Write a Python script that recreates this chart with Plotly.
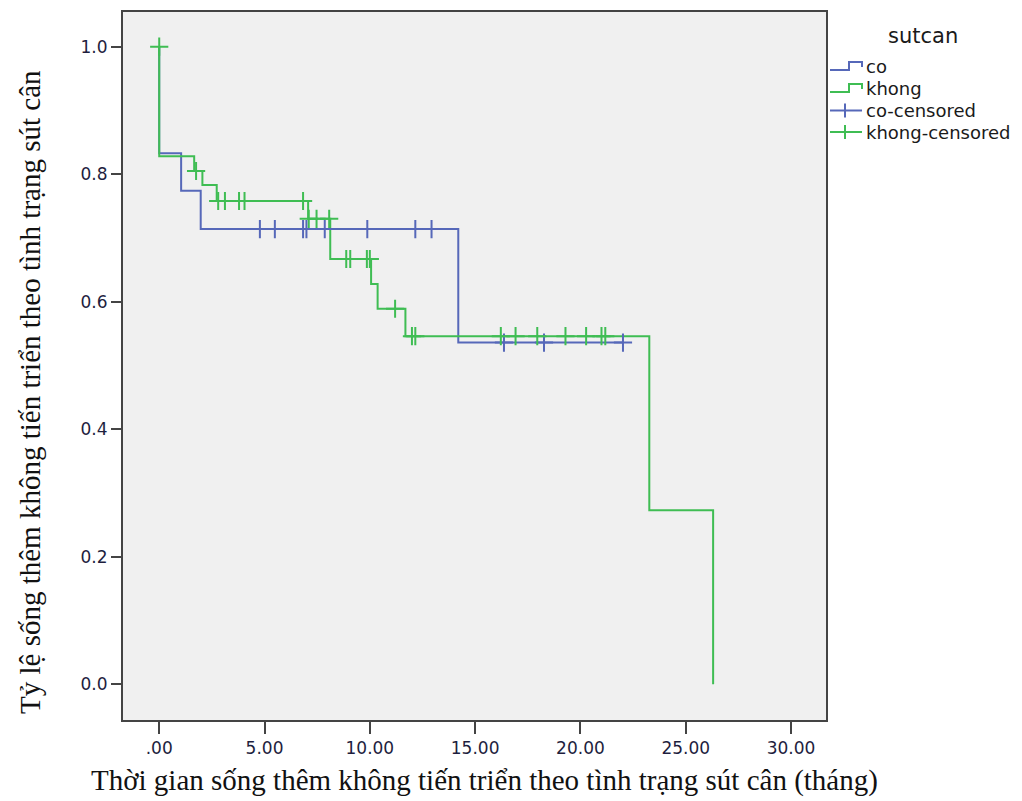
import plotly.graph_objects as go

# ---- data ----
co_step_t = [0, 0, 1.04, 1.97, 14.2, 22.02]
co_step_s = [1.0, 0.833, 0.774, 0.714, 0.536, 0.536]
co_cens_t = [4.78, 5.49, 6.83, 6.99, 7.86, 9.88, 12.16, 12.93, 16.37, 18.27, 22.02]

khong_step_t = [0, 0, 1.66, 2.05, 2.73, 7.07, 8.12, 10.06, 10.37, 11.69, 23.27, 26.3]
khong_step_s = [1.0, 0.828, 0.805, 0.783, 0.758, 0.730, 0.667, 0.628, 0.589, 0.546, 0.273, 0.0]
khong_cens_t = [0, 1.75, 2.8, 3.12, 3.79, 4.05, 6.83, 7.1, 7.47, 8.07, 8.88, 9.07,
                9.86, 10.0, 11.2, 12.0, 12.16, 16.22, 16.92, 17.95, 19.29, 20.27, 21.0, 21.18]

x_tickvals = [0, 5, 10, 15, 20, 25, 30]
x_ticktext = [".00", "5.00", "10.00", "15.00", "20.00", "25.00", "30.00"]
y_tickvals = [0.0, 0.2, 0.4, 0.6, 0.8, 1.0]

legend_title = "sutcan"
legend_names = ["co", "khong", "co-censored", "khong-censored"]

BLUE = "#5668b9"
GREEN = "#3fbd53"
legend_colors = [BLUE, GREEN, BLUE, GREEN]


def surv_at(t, ts, ss):
    val = ss[0]
    for i in range(1, len(ts)):
        if ts[i] < t:
            val = ss[i]
    return val


co_cens_s = [surv_at(t, co_step_t, co_step_s) for t in co_cens_t]
khong_cens_s = [surv_at(t, khong_step_t, khong_step_s) for t in khong_cens_t]

# page offset (body margin of the html page) and plot area geometry in page pixels
OFF = 8
PL, PR, PT, PB = 123, 826, 12, 720
W, H = 1022 - OFF, 801 - OFF


def px(x):
    return (x - PL) / (PR - PL)


def py(y):
    return (PB - y) / (PB - PT)


fig = go.Figure()

fig.add_trace(go.Scatter(x=co_step_t, y=co_step_s, mode="lines", line_shape="hv",
                         line=dict(color=BLUE, width=2), name="co", showlegend=False))
fig.add_trace(go.Scatter(x=khong_step_t, y=khong_step_s, mode="lines", line_shape="hv",
                         line=dict(color=GREEN, width=2), name="khong", showlegend=False))
fig.add_trace(go.Scatter(x=co_cens_t, y=co_cens_s, mode="markers",
                         marker=dict(color=BLUE, symbol="cross-thin", size=13,
                                     line=dict(color=BLUE, width=2)),
                         showlegend=False, name="co-censored"))
fig.add_trace(go.Scatter(x=khong_cens_t, y=khong_cens_s, mode="markers",
                         marker=dict(color=GREEN, symbol="cross-thin", size=13,
                                     line=dict(color=GREEN, width=2)),
                         showlegend=False, name="khong-censored"))

# ---- manual legend (step-shaped icons like the reference) ----
shapes = []
annotations = []
leg_font = dict(family="DejaVu Sans", size=18, color="#1a1a1a")
annotations.append(dict(text=legend_title, xref="paper", yref="paper", x=px(923), y=py(36),
                        xanchor="center", yanchor="middle", showarrow=False,
                        font=dict(family="DejaVu Sans", size=21, color="#1a1a1a")))
row_y = [67, 89, 110.5, 132]
for i, (name, col) in enumerate(zip(legend_names, legend_colors)):
    yc = row_y[i]
    annotations.append(dict(text=name, xref="paper", yref="paper", x=px(864), y=py(yc),
                            xanchor="left", yanchor="middle", showarrow=False, font=leg_font))
    if i < 2:
        path = (f"M {px(830)},{py(yc + 3)} L {px(849)},{py(yc + 3)} L {px(849)},{py(yc - 5)} "
                f"L {px(862)},{py(yc - 5)} L {px(862)},{py(yc)}")
        shapes.append(dict(type="path", path=path, xref="paper", yref="paper",
                           line=dict(color=col, width=2)))
    else:
        shapes.append(dict(type="line", xref="paper", yref="paper", x0=px(830), x1=px(862),
                           y0=py(yc), y1=py(yc), line=dict(color=col, width=2)))
        shapes.append(dict(type="line", xref="paper", yref="paper", x0=px(845), x1=px(845),
                           y0=py(yc - 7), y1=py(yc + 7), line=dict(color=col, width=2)))

tickfont = dict(family="DejaVu Sans", size=17, color="#1e1e3e")
serif = dict(family="Liberation Serif", size=29, color="#111111")

annotations += [
    dict(text="Thời gian sống thêm không tiến triển theo tình trạng sút cân (tháng)",
         xref="paper", yref="paper", x=px(484), y=py(780), xanchor="center",
         yanchor="middle", showarrow=False, font=serif),
    dict(text="Tỷ lệ sống thêm không tiến triển theo tình trạng sút cân",
         xref="paper", yref="paper", x=px(30), y=py(392), xanchor="center",
         yanchor="middle", textangle=-90, showarrow=False, font=serif),
]

fig.update_layout(
    width=W, height=H,
    margin=dict(l=PL - OFF, r=W - (PR - OFF), t=PT - OFF, b=H - (PB - OFF), autoexpand=False),
    paper_bgcolor="white",
    plot_bgcolor="#f0f0f0",
    showlegend=False,
    xaxis=dict(range=[-1.72, 31.66], tickvals=x_tickvals, ticktext=x_ticktext,
               showgrid=False, zeroline=False, showline=True, linecolor="#444444",
               linewidth=2, mirror=True, ticks="outside", ticklen=12, tickwidth=2,
               tickcolor="#444444", tickfont=tickfont),
    yaxis=dict(range=[-0.056, 1.0544], tickvals=y_tickvals, tickformat=".1f",
               showgrid=False, zeroline=False, showline=True, linecolor="#444444",
               linewidth=2, mirror=True, ticks="outside", ticklen=10, tickwidth=2,
               tickcolor="#444444", tickfont=tickfont),
    shapes=shapes,
    annotations=annotations,
)

fig.write_html("out.html")
